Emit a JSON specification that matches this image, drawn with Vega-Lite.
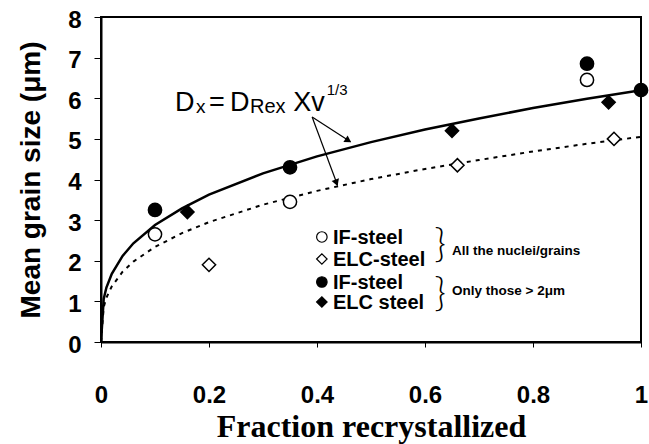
{
  "$schema": "https://vega.github.io/schema/vega-lite/v6.json",
  "width": 540,
  "height": 325,
  "autosize": {"type": "none"},
  "padding": {"left": 101, "top": 17, "right": 8, "bottom": 102},
  "background": "white",
  "config": {
    "view": {"stroke": "black", "strokeWidth": 2},
    "font": "Liberation Sans",
    "axis": {
      "grid": false,
      "domainColor": "black",
      "domainWidth": 2,
      "tickColor": "black",
      "tickWidth": 1,
      "labelColor": "black",
      "labelFont": "Liberation Sans",
      "labelFontWeight": "bold",
      "labelFontSize": 24,
      "labelFlush": false,
      "titleColor": "black"
    }
  },
  "datasets": {
    "curves": [
      {"fraction": 0.0, "size": 0.0, "fit": "IF"},
      {"fraction": 0.005, "size": 1.06, "fit": "IF"},
      {"fraction": 0.01, "size": 1.34, "fit": "IF"},
      {"fraction": 0.02, "size": 1.68, "fit": "IF"},
      {"fraction": 0.04, "size": 2.12, "fit": "IF"},
      {"fraction": 0.06, "size": 2.43, "fit": "IF"},
      {"fraction": 0.1, "size": 2.88, "fit": "IF"},
      {"fraction": 0.15, "size": 3.29, "fit": "IF"},
      {"fraction": 0.2, "size": 3.63, "fit": "IF"},
      {"fraction": 0.3, "size": 4.15, "fit": "IF"},
      {"fraction": 0.4, "size": 4.57, "fit": "IF"},
      {"fraction": 0.5, "size": 4.92, "fit": "IF"},
      {"fraction": 0.6, "size": 5.23, "fit": "IF"},
      {"fraction": 0.7, "size": 5.5, "fit": "IF"},
      {"fraction": 0.8, "size": 5.76, "fit": "IF"},
      {"fraction": 0.9, "size": 5.99, "fit": "IF"},
      {"fraction": 1.0, "size": 6.2, "fit": "IF"},
      {"fraction": 0.0, "size": 0.0, "fit": "ELC"},
      {"fraction": 0.005, "size": 0.86, "fit": "ELC"},
      {"fraction": 0.01, "size": 1.09, "fit": "ELC"},
      {"fraction": 0.02, "size": 1.37, "fit": "ELC"},
      {"fraction": 0.04, "size": 1.73, "fit": "ELC"},
      {"fraction": 0.06, "size": 1.98, "fit": "ELC"},
      {"fraction": 0.1, "size": 2.34, "fit": "ELC"},
      {"fraction": 0.15, "size": 2.68, "fit": "ELC"},
      {"fraction": 0.2, "size": 2.95, "fit": "ELC"},
      {"fraction": 0.3, "size": 3.38, "fit": "ELC"},
      {"fraction": 0.4, "size": 3.72, "fit": "ELC"},
      {"fraction": 0.5, "size": 4.01, "fit": "ELC"},
      {"fraction": 0.6, "size": 4.26, "fit": "ELC"},
      {"fraction": 0.7, "size": 4.48, "fit": "ELC"},
      {"fraction": 0.8, "size": 4.69, "fit": "ELC"},
      {"fraction": 0.9, "size": 4.88, "fit": "ELC"},
      {"fraction": 1.0, "size": 5.05, "fit": "ELC"}
    ],
    "grains": [
      {"fraction": 0.1, "size": 2.65, "steel": "IF", "counted": "all"},
      {"fraction": 0.35, "size": 3.45, "steel": "IF", "counted": "all"},
      {"fraction": 0.9, "size": 6.45, "steel": "IF", "counted": "all"},
      {"fraction": 0.2, "size": 1.9, "steel": "ELC", "counted": "all"},
      {"fraction": 0.66, "size": 4.35, "steel": "ELC", "counted": "all"},
      {"fraction": 0.95, "size": 5.0, "steel": "ELC", "counted": "all"},
      {"fraction": 0.1, "size": 3.25, "steel": "IF", "counted": "over2"},
      {"fraction": 0.35, "size": 4.3, "steel": "IF", "counted": "over2"},
      {"fraction": 0.9, "size": 6.85, "steel": "IF", "counted": "over2"},
      {"fraction": 1.0, "size": 6.2, "steel": "IF", "counted": "over2"},
      {"fraction": 0.16, "size": 3.2, "steel": "ELC", "counted": "over2"},
      {"fraction": 0.65, "size": 5.2, "steel": "ELC", "counted": "over2"},
      {"fraction": 0.94, "size": 5.9, "steel": "ELC", "counted": "over2"}
    ]
  },
  "layer": [
    {
      "data": {"name": "curves"},
      "transform": [{"filter": "datum.fit === 'IF'"}],
      "mark": {"type": "line", "color": "black", "strokeWidth": 2.5, "clip": true},
      "encoding": {
        "x": {
          "field": "fraction", "type": "quantitative",
          "scale": {"domain": [0, 1], "nice": false},
          "axis": {
            "values": [0, 0.2, 0.4, 0.6, 0.8, 1],
            "format": "~g",
            "tickSize": 5,
            "labelPadding": 36,
            "title": "Fraction recrystallized",
            "titleFont": "Liberation Serif",
            "titleFontWeight": "bold",
            "titleFontSize": 32,
            "titlePadding": 4
          }
        },
        "y": {
          "field": "size", "type": "quantitative",
          "scale": {"domain": [0, 8], "nice": false},
          "axis": {
            "values": [0, 1, 2, 3, 4, 5, 6, 7, 8],
            "tickSize": 7,
            "labelPadding": 13,
            "labelOffset": 3,
            "title": "Mean grain size (μm)",
            "titleFont": "Liberation Sans",
            "titleFontWeight": "bold",
            "titleFontSize": 28,
            "titlePadding": 22
          }
        }
      }
    },
    {
      "data": {"name": "curves"},
      "transform": [{"filter": "datum.fit === 'ELC'"}],
      "mark": {"type": "line", "color": "black", "strokeWidth": 2, "strokeDash": [4, 5]},
      "encoding": {
        "x": {"field": "fraction", "type": "quantitative"},
        "y": {"field": "size", "type": "quantitative"}
      }
    },
    {
      "data": {"name": "grains"},
      "mark": {"type": "point", "filled": true, "stroke": "black", "strokeWidth": 1.5, "size": 175, "opacity": 1},
      "encoding": {
        "x": {"field": "fraction", "type": "quantitative"},
        "y": {"field": "size", "type": "quantitative"},
        "shape": {"field": "steel", "type": "nominal", "scale": {"domain": ["IF", "ELC"], "range": ["circle", "diamond"]}, "legend": null},
        "fill": {"field": "counted", "type": "nominal", "scale": {"domain": ["all", "over2"], "range": ["white", "black"]}, "legend": null}
      }
    },
    {
      "data": {"values": [{}]},
      "mark": {"type": "rule", "color": "black", "strokeWidth": 1.2},
      "encoding": {
        "x": {"datum": 0.391}, "y": {"datum": 5.54},
        "x2": {"datum": 0.462}, "y2": {"datum": 4.93}
      }
    },
    {
      "data": {"values": [{}]},
      "mark": {"type": "rule", "color": "black", "strokeWidth": 1.2},
      "encoding": {
        "x": {"datum": 0.391}, "y": {"datum": 5.54},
        "x2": {"datum": 0.438}, "y2": {"datum": 3.86}
      }
    },
    {
      "data": {"values": [{}]},
      "mark": {"type": "point", "shape": "triangle-right", "filled": true, "color": "black", "size": 60, "angle": 33, "opacity": 1},
      "encoding": {"x": {"datum": 0.458}, "y": {"datum": 4.96}}
    },
    {
      "data": {"values": [{}]},
      "mark": {"type": "point", "shape": "triangle-right", "filled": true, "color": "black", "size": 60, "angle": 70, "opacity": 1},
      "encoding": {"x": {"datum": 0.436}, "y": {"datum": 3.92}}
    },
    {
      "data": {"values": [{}]},
      "mark": {"type": "text", "text": "D", "font": "Liberation Sans", "fontSize": 27, "align": "left", "baseline": "alphabetic", "color": "black"},
      "encoding": {"x": {"datum": 0.137}, "y": {"datum": 5.686}}
    },
    {
      "data": {"values": [{}]},
      "mark": {"type": "text", "text": "x", "font": "Liberation Sans", "fontSize": 19, "align": "left", "baseline": "alphabetic", "color": "black"},
      "encoding": {"x": {"datum": 0.176}, "y": {"datum": 5.64}}
    },
    {
      "data": {"values": [{}]},
      "mark": {"type": "text", "text": "=", "font": "Liberation Sans", "fontSize": 27, "align": "left", "baseline": "alphabetic", "color": "black"},
      "encoding": {"x": {"datum": 0.2}, "y": {"datum": 5.686}}
    },
    {
      "data": {"values": [{}]},
      "mark": {"type": "text", "text": "D", "font": "Liberation Sans", "fontSize": 27, "align": "left", "baseline": "alphabetic", "color": "black"},
      "encoding": {"x": {"datum": 0.239}, "y": {"datum": 5.686}}
    },
    {
      "data": {"values": [{}]},
      "mark": {"type": "text", "text": "Rex", "font": "Liberation Sans", "fontSize": 20, "align": "left", "baseline": "alphabetic", "color": "black"},
      "encoding": {"x": {"datum": 0.276}, "y": {"datum": 5.64}}
    },
    {
      "data": {"values": [{}]},
      "mark": {"type": "text", "text": "Xv", "font": "Liberation Sans", "fontSize": 27, "align": "left", "baseline": "alphabetic", "color": "black"},
      "encoding": {"x": {"datum": 0.356}, "y": {"datum": 5.686}}
    },
    {
      "data": {"values": [{}]},
      "mark": {"type": "text", "text": "1/3", "font": "Liberation Sans", "fontSize": 15, "align": "left", "baseline": "alphabetic", "color": "black"},
      "encoding": {"x": {"datum": 0.418}, "y": {"datum": 6.08}}
    },
    {
      "data": {"values": [
        {"label": "IF-steel", "steel": "IF", "counted": "all", "row": 2.585},
        {"label": "ELC-steel", "steel": "ELC", "counted": "all", "row": 2.043},
        {"label": "IF-steel", "steel": "IF", "counted": "over2", "row": 1.477},
        {"label": "ELC steel", "steel": "ELC", "counted": "over2", "row": 0.985}
      ]},
      "layer": [
        {
          "mark": {"type": "point", "filled": true, "stroke": "black", "strokeWidth": 1.2, "size": 110, "opacity": 1},
          "encoding": {
            "x": {"datum": 0.409},
            "y": {"field": "row", "type": "quantitative"},
            "shape": {"field": "steel", "type": "nominal", "legend": null},
            "fill": {"field": "counted", "type": "nominal", "legend": null}
          }
        },
        {
          "mark": {"type": "text", "font": "Liberation Sans", "fontWeight": "bold", "fontSize": 20, "align": "left", "baseline": "middle", "dy": 1, "color": "black"},
          "encoding": {
            "x": {"datum": 0.4296},
            "y": {"field": "row", "type": "quantitative"},
            "text": {"field": "label"}
          }
        }
      ]
    },
    {
      "data": {"values": [
        {"note": "All the nuclei/grains", "mid": 2.14, "brace": 2.39},
        {"note": "Only those > 2μm", "mid": 1.157, "brace": 1.18}
      ]},
      "layer": [
        {
          "mark": {"type": "text", "text": "}", "font": "Lato", "fontWeight": 300, "fontSize": 40, "align": "center", "baseline": "middle", "color": "black"},
          "encoding": {
            "x": {"datum": 0.628},
            "y": {"field": "brace", "type": "quantitative"}
          }
        },
        {
          "mark": {"type": "text", "font": "Liberation Sans", "fontWeight": "bold", "fontSize": 13.5, "align": "left", "baseline": "alphabetic", "color": "black"},
          "encoding": {
            "x": {"datum": 0.65},
            "y": {"field": "mid", "type": "quantitative"},
            "text": {"field": "note"}
          }
        }
      ]
    }
  ]
}
